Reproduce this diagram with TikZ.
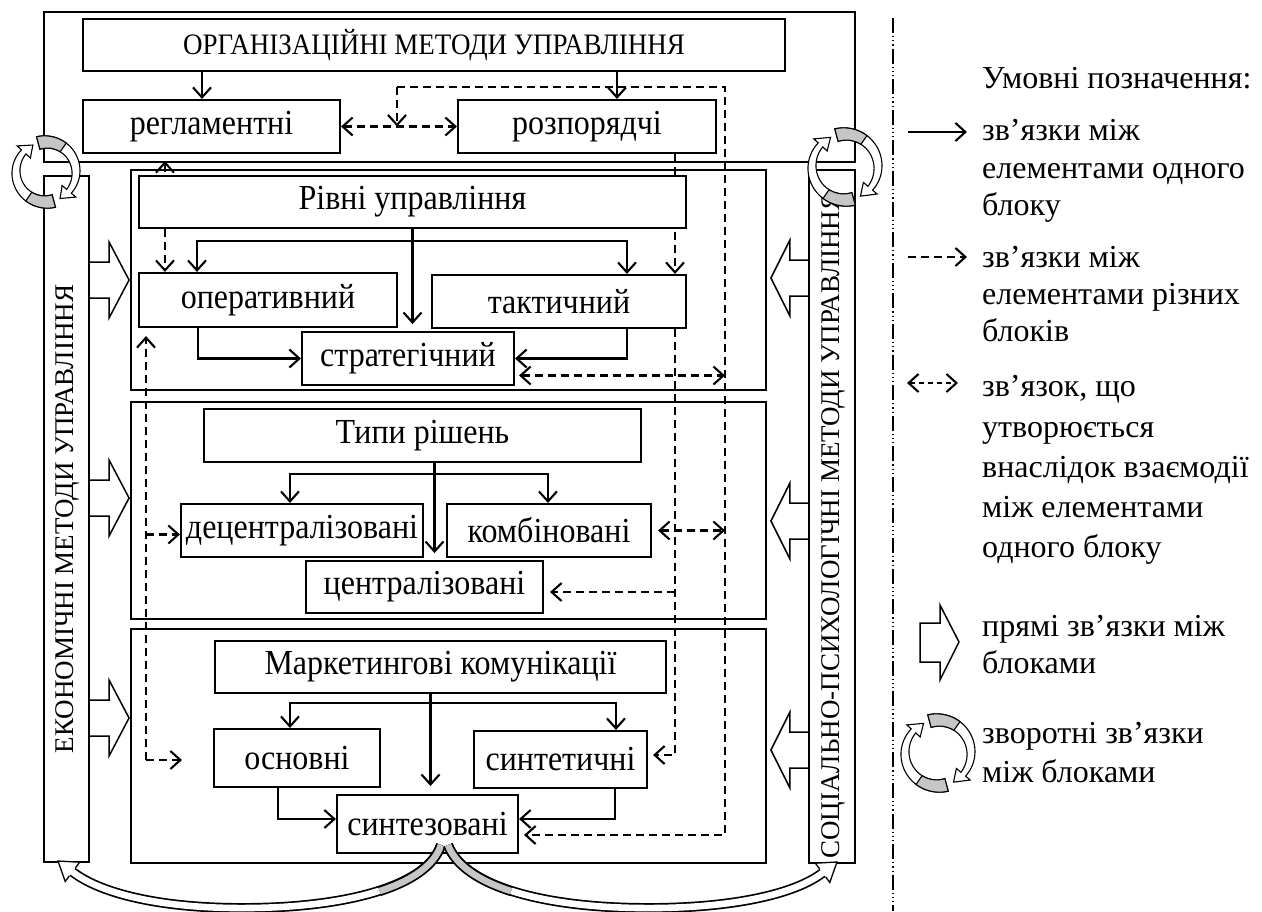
\documentclass[tikz,border=0pt]{standalone}
\usepackage{fontspec}
\setmainfont{Liberation Serif}
\usetikzlibrary{arrows.meta,backgrounds}
\newcommand\fl{\fontsize{32}{37}\selectfont}
\newcommand\fc{\fontsize{27}{31}\selectfont}
\tikzset{
  box/.style={draw, fill=white, line width=2.1pt, inner sep=0pt, font=\fl},
  frm/.style={draw, line width=2.1pt, inner sep=0pt},
  tip/.style={line width=2.1pt, -{Straight Barb[length=10pt,width=18pt]}},
  dtip/.style={line width=2.1pt, {Straight Barb[length=10pt,width=18pt]}-{Straight Barb[length=10pt,width=18pt]}},
  dsh/.style={dash pattern=on 8pt off 5pt},
  blk/.style={draw, fill=white, line width=1.5pt, line join=miter},
  lgd/.style={anchor=base west, font=\fl, inner sep=0pt},
}
\newcommand\bx[6]{\node[box, minimum width={(#4-#2)*1pt}, minimum height={(#5-#3)*1pt}] (#1) at ({(#2+#4)/2},{(#3+#5)/2}) {\scalebox{1}[1.1]{#6}};}
\newcommand\fr[5]{\node[frm, minimum width={(#4-#2)*1pt}, minimum height={(#5-#3)*1pt}] (#1) at ({(#2+#4)/2},{(#3+#5)/2}) {};}
\newcommand\rblk[1]{\draw[blk] (eco.east |- 0,#1-18) -- ++(19,0) -- ++(0,-20) -- ++(20,38) -- ++(-20,38) -- ++(0,-20) -- (eco.east |- 0,#1+18);}
\newcommand\lblk[1]{\draw[blk] (soc.west |- 0,#1-18) -- ++(-18,0) -- ++(0,-20) -- ++(-19,38) -- ++(19,38) -- ++(0,-20) -- (soc.west |- 0,#1+18);}
\newcommand\halfarc[4]{%
 \filldraw[fill=white,line width=1.1pt] plot[domain=#2:#3,samples=36] (\x:{#1+6.5-3.5*(\x-(#2))/((#3)-(#2))}) -- ({#3}:{#1+9}) -- ({#3+22}:{#1}) -- ({#3}:{#1-9}) -- plot[domain=#3:#2,samples=36] (\x:{#1-6.5+3.5*(\x-(#2))/((#3)-(#2))}) -- cycle;
 \filldraw[fill=gray!45,line width=1.1pt] plot[domain=#2:#4,samples=12] (\x:{#1+6.5-3.5*(\x-(#2))/((#3)-(#2))}) -- plot[domain=#4:#2,samples=12] (\x:{#1-6.5+3.5*(\x-(#2))/((#3)-(#2))}) -- cycle;}
\newcommand\cycpair[3]{\begin{scope}[shift={(#1,#2)}]\halfarc{#3}{-105}{40}{-55}\halfarc{#3}{75}{222}{125}\end{scope}}
\begin{document}
\begin{tikzpicture}[x=1pt,y=-1pt]
\useasboundingbox (0,0) rectangle (1262,911);
\begin{pgfonlayer}{background}
\fr{orgF}{44}{12}{855}{162}
\fr{b1}{131}{170}{766}{390}
\fr{b2}{131}{402}{766}{619}
\fr{b3}{131}{629}{766}{863}
\fr{eco}{44}{176}{89}{862}
\fr{soc}{809}{170}{855}{863}
\end{pgfonlayer}
\node[rotate=90, font=\fc, inner sep=0pt] (ecoT) at ([xshift=1pt]eco.center) {ЕКОНОМІЧНІ МЕТОДИ УПРАВЛІННЯ};
\node[rotate=90, font=\fc, inner sep=0pt] (socT) at ([xshift=1pt,yshift=-9pt]soc.center) {СОЦІАЛЬНО-ПСИХОЛОГІЧНІ МЕТОДИ УПРАВЛІННЯ};
% boxes
\bx{org}{83}{19}{785}{71}{\fc ОРГАНІЗАЦІЙНІ МЕТОДИ УПРАВЛІННЯ}
\bx{reg}{83}{100}{340}{153}{регламентні}
\bx{roz}{458}{100}{716}{153}{розпорядчі}
\bx{riv}{139}{176}{686}{228}{Рівні управління}
\bx{oper}{139}{273}{397}{327}{оперативний}
\bx{takt}{432}{275}{686}{328}{тактичний}
\bx{strat}{302}{332}{514}{385}{стратегічний}
\bx{typ}{204}{409}{641}{462}{Типи рішень}
\bx{dec}{181}{504}{423}{557}{децентралізовані}
\bx{komb}{447}{504}{651}{557}{комбіновані}
\bx{cent}{306}{561}{543}{613}{централізовані}
\bx{mark}{215}{641}{666}{693}{Маркетингові комунікації}
\bx{osn}{214}{729}{380}{787}{основні}
\bx{synt}{474}{731}{647}{788}{синтетичні}
\bx{syn}{337}{795}{518}{853}{синтезовані}
% dashed connectors (behind boxes)
\coordinate (d1) at (397,87);
\coordinate (d2) at (725,87);
\coordinate (d3) at (725,835);
\coordinate (e2) at (675,755);
\coordinate (f1) at (146,760);
\begin{pgfonlayer}{background}
\draw[dsh,dtip] (reg.east) -- (roz.west);
\draw[dsh,tip] (d1) -- (d1 |- reg.east);
\draw[dsh,tip] (d1) -- (d2) -- (d3) -- ([xshift=5pt]d3 -| syn.east);
\draw[dsh,dtip] ([xshift=4pt,yshift=-17pt]strat.east) -- ([yshift=-17pt]d2 |- strat.east);
\draw[dsh,dtip] ([xshift=6pt]komb.east) -- (d2 |- komb.east);
\draw[dsh,tip] ([xshift=-42pt]roz.south east) -- ([xshift=-12pt]takt.north east);
\draw[dsh,tip] (e2 |- takt.south) -- (e2) -- ([xshift=5pt]e2 -| synt.east);
\draw[dsh,tip] ([yshift=-5pt]e2 |- cent.east) -- ([xshift=6pt,yshift=-5pt]cent.east);
\draw[dsh,tip] (f1) -- ([yshift=-8pt]f1 |- oper.south);
\draw[dsh,tip] (f1) -- ([xshift=-31pt]osn.west |- f1);
\draw[dsh,tip] ([yshift=-4pt]f1 |- dec.west) -- ([yshift=-4pt]dec.west);
\draw[dsh,dtip] ([xshift=83pt,yshift=-7pt]reg.south west) -- ([xshift=83pt]reg.south west |- oper.north);
\end{pgfonlayer}
% solid connectors
\draw[tip] ([xshift=-9.5pt]reg.north |- org.south) -- ([xshift=-9.5pt]reg.north);
\draw[tip] ([xshift=30pt]roz.north |- org.south) -- ([xshift=30pt]roz.north);
\draw[tip] (riv.south) -- ++(0,95);
\draw[line width=2.1pt] (riv.south) -- ++(0,12) coordinate (rb);
\draw[tip] (rb) -| ([xshift=59pt]oper.north west);
\draw[tip] (rb) -| ([xshift=196pt]takt.north west);
\draw[tip] ([xshift=60pt]oper.south west) |- (strat.west);
\draw[tip] ([xshift=196pt]takt.south west) |- (strat.east);
\draw[tip] ([xshift=12pt]typ.south) -- ++(0,90);
\draw[line width=2.1pt] ([xshift=12pt]typ.south) -- ++(0,11) coordinate (tb);
\draw[tip] (tb) -| ([xshift=110pt]dec.north west);
\draw[tip] (tb) -| ([xshift=102pt]komb.north west);
\draw[tip] ([xshift=-10pt]mark.south) -- ++(0,92);
\draw[line width=2.1pt] ([xshift=-10pt]mark.south) -- ++(0,9) coordinate (mb);
\draw[tip] (mb) -| ([xshift=77pt]osn.north west);
\draw[tip] (mb) -| ([xshift=143pt]synt.north west);
\draw[tip] ([xshift=65pt]osn.south west) |- ([yshift=5pt]syn.west);
\draw[tip] ([xshift=142pt]synt.south west) |- ([yshift=5pt]syn.east);
% block arrows
\rblk{280}\rblk{498}\rblk{718}
\lblk{278}\lblk{521}\lblk{750}
% cycles
\cycpair{46}{172}{30}
\cycpair{845}{167}{33}
% bottom curves
\draw[line width=10pt] (441,845) .. controls (428,885) and (350,907) .. (250,908) .. controls (170,909) and (104,896) .. (72.4,871.8);
\draw[line width=6.6pt,white] (441,845) .. controls (428,885) and (350,907) .. (250,908) .. controls (170,909) and (104,896) .. (72.4,871.8);
\draw[line width=10pt] (441,845) .. controls (434.5,865) and (412.5,880.5) .. (379.6,891.1);
\draw[line width=6.6pt,gray!45] (441,845) .. controls (434.5,865) and (412.5,880.5) .. (379.6,891.1);
\draw[line width=10pt] (448,845) .. controls (463,885) and (540,907) .. (640,908) .. controls (720,909) and (791,897) .. (822.6,872.8);
\draw[line width=6.6pt,white] (448,845) .. controls (463,885) and (540,907) .. (640,908) .. controls (720,909) and (791,897) .. (822.6,872.8);
\draw[line width=10pt] (448,845) .. controls (455.5,865) and (478,880.5) .. (511.1,891.1);
\draw[line width=6.6pt,gray!45] (448,845) .. controls (455.5,865) and (478,880.5) .. (511.1,891.1);
\filldraw[fill=white,line width=1.3pt,line join=miter] (75.4,867.8) -- (79.6,862.2) -- (58,861) -- (65.2,881.4) -- (69.4,875.8);
\filldraw[fill=white,line width=1.3pt,line join=miter] (825.6,876.8) -- (829.8,882.4) -- (837,862) -- (815.4,863.2) -- (819.6,868.8);
% legend
\draw[line width=1.3pt, dash pattern=on 15pt off 3pt on 1.2pt off 3pt on 1.2pt off 3pt on 1.2pt off 3pt] (893,18) -- (893,911);
\node[lgd] (t0) at (982,88) {Умовні позначення:};
\node[lgd] (t11) at (982,140) {зв’язки між};
\node[lgd] (t12) at (982,178) {елементами одного};
\node[lgd] (t13) at (982,215) {блоку};
\node[lgd] (t21) at (982,267) {зв’язки між};
\node[lgd] (t22) at (982,304) {елементами різних};
\node[lgd] (t23) at (982,341) {блоків};
\node[lgd] (t31) at (982,396) {зв’язок, що};
\node[lgd] (t32) at (982,437) {утворюється};
\node[lgd] (t33) at (982,477) {внаслідок взаємодії};
\node[lgd] (t34) at (982,517) {між елементами};
\node[lgd] (t35) at (982,557) {одного блоку};
\node[lgd] (t41) at (982,636) {прямі зв’язки між};
\node[lgd] (t42) at (982,673) {блоками};
\node[lgd] (t51) at (982,743) {зворотні зв’язки};
\node[lgd] (t52) at (982,782) {між блоками};
\coordinate (la1) at (908,132);
\coordinate (la2) at (908,257);
\coordinate (la3) at (907,383);
\draw[tip] (la1) -- ++(59,0);
\draw[tip,dsh] (la2) -- ++(59,0);
\draw[dtip,dash pattern=on 5pt off 4pt] (la3) -- ++(51,0);
\draw[blk] (920,623) -- (940,623) -- (940,605) -- (959,642) -- (940,680) -- (940,662) -- (920,662) -- cycle;
\cycpair{938}{753}{33}
\end{tikzpicture}
\end{document}
